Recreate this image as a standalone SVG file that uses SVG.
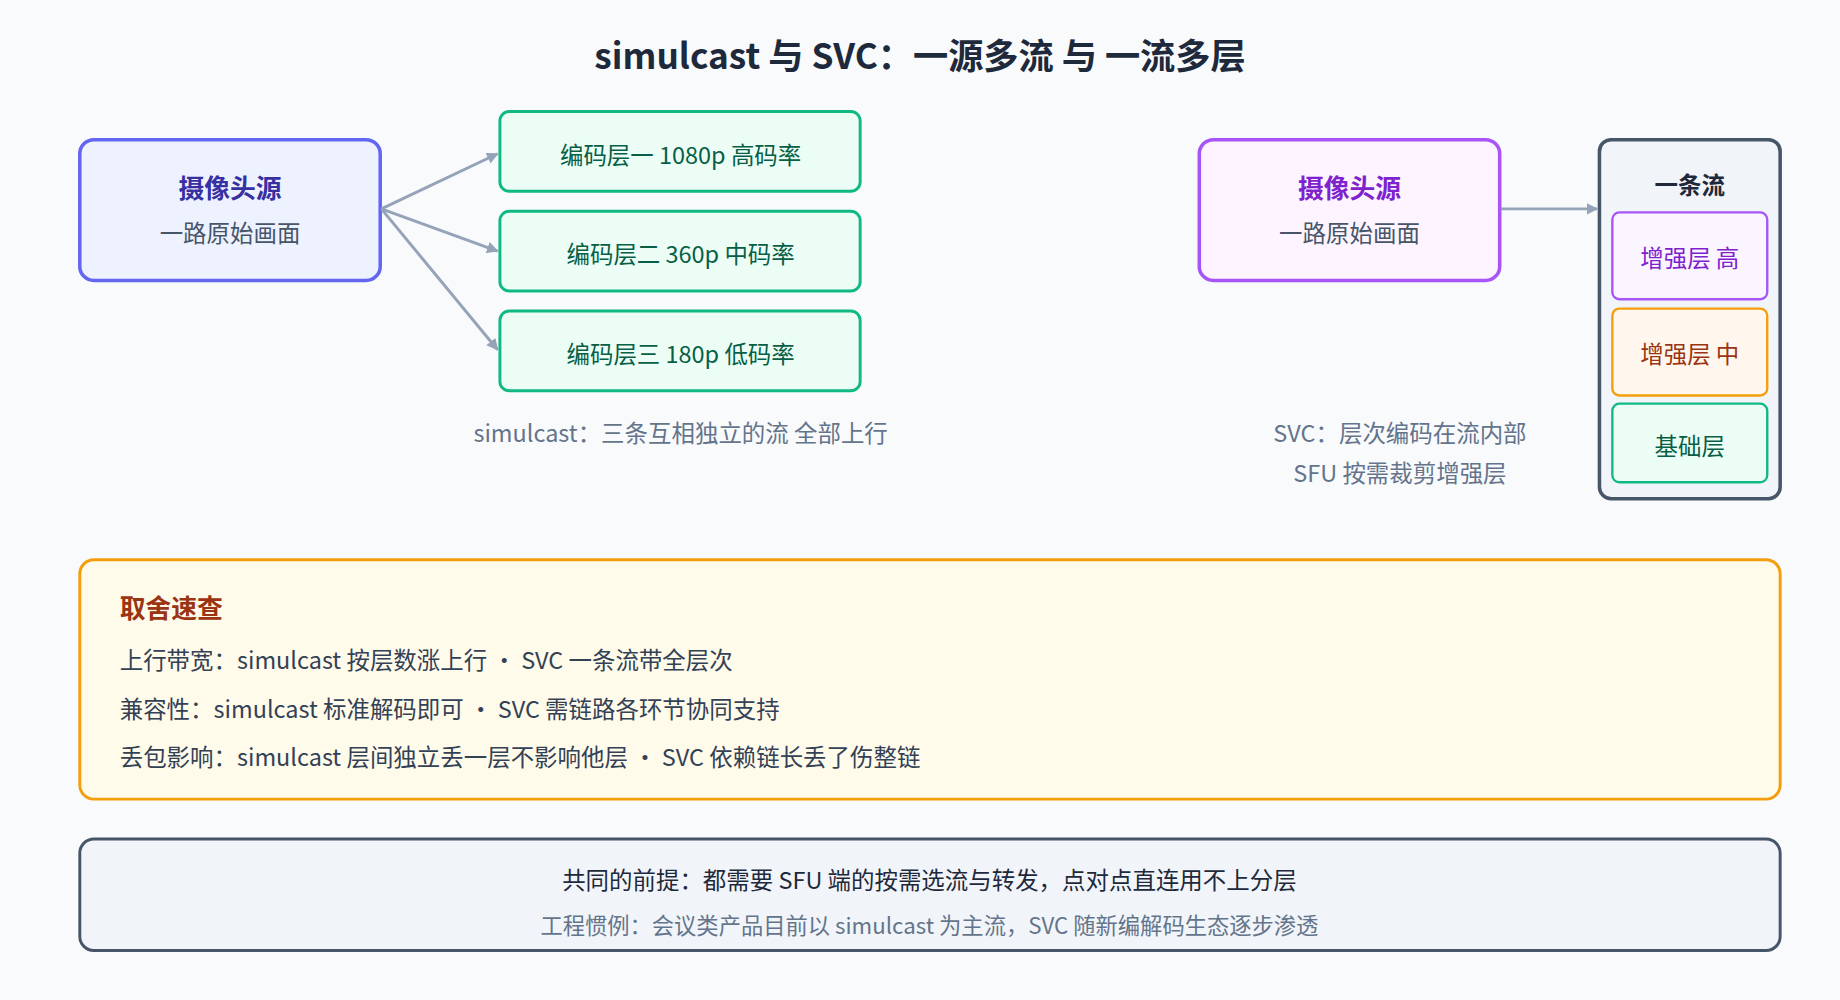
<svg xmlns="http://www.w3.org/2000/svg" width="1840" height="1000" viewBox="0 0 1840 1000">
<defs>
<marker id="ah" markerWidth="10" markerHeight="10" refX="9" refY="5" orient="auto" markerUnits="userSpaceOnUse"><path d="M0,0 L10,5 L0,10 z" fill="#94a3b8"/></marker>
<style>
text{font-family:"Noto Sans CJK SC","Noto Sans",sans-serif;text-anchor:middle;dominant-baseline:central}
.t{font-size:20px}
.b{font-weight:bold}
.g rect{fill:#ecfdf5;stroke:#10b981;stroke-width:2.5}
.g text{fill:#065f46;font-size:20px}
.cap{fill:#64748b;font-size:20px}
.l{text-anchor:start;fill:#334155;font-size:20px}
.c line{stroke:#94a3b8;stroke-width:2.5;marker-end:url(#ah)}
</style>
</defs>
<rect width="1840" height="1000" fill="#f8fafc"/>
<g transform="scale(1.17347)">
<text x="784" y="46" class="b" style="font-size:30px" fill="#1e293b">simulcast 与 SVC：一源多流 与 一流多层</text>
<g id="src1"><rect x="68" y="119" width="256" height="120" rx="12" fill="#eef2ff" stroke="#6366f1" stroke-width="3"/>
<text x="196" y="159" class="t b" fill="#3730a3" style="font-size:22px">摄像头源</text><text x="196" y="198" class="t" fill="#475569">一路原始画面</text></g>
<g id="l1" class="g"><rect x="426" y="95" width="307" height="68" rx="8"/><text x="580" y="131">编码层一 1080p 高码率</text></g>
<g id="l2" class="g"><rect x="426" y="180" width="307" height="68" rx="8"/><text x="580" y="216">编码层二 360p 中码率</text></g>
<g id="l3" class="g"><rect x="426" y="265" width="307" height="68" rx="8"/><text x="580" y="301">编码层三 180p 低码率</text></g>
<text x="580" y="368" class="cap">simulcast：三条互相独立的流 全部上行</text>
<g id="src2"><rect x="1022" y="119" width="256" height="120" rx="12" fill="#fdf4ff" stroke="#a855f7" stroke-width="3"/>
<text x="1150" y="159" class="t b" fill="#7e22ce" style="font-size:22px">摄像头源</text><text x="1150" y="198" class="t" fill="#475569">一路原始画面</text></g>
<g id="stream"><rect x="1363" y="119" width="154" height="306" rx="10" fill="#f1f5f9" stroke="#475569" stroke-width="3"/>
<text x="1440" y="157" class="t b" fill="#1e293b">一条流</text></g>
<g id="eh"><rect x="1374" y="181" width="132" height="74" rx="6" fill="#faf5ff" stroke="#a855f7" stroke-width="2"/><text x="1440" y="219" class="t" fill="#7e22ce">增强层 高</text></g>
<g id="em"><rect x="1374" y="263" width="132" height="74" rx="6" fill="#fff7ed" stroke="#f59e0b" stroke-width="2"/><text x="1440" y="301" class="t" fill="#9a3412">增强层 中</text></g>
<g id="base"><rect x="1374" y="344" width="132" height="67" rx="6" fill="#ecfdf5" stroke="#10b981" stroke-width="2"/><text x="1440" y="379" class="t" fill="#065f46">基础层</text></g>
<text x="1193" y="368" class="cap">SVC：层次编码在流内部</text>
<text x="1193" y="402" class="cap">SFU 按需裁剪增强层</text>
<g id="connectors" class="c">
<line x1="325" y1="178" x2="424" y2="131"/>
<line x1="325" y1="178" x2="424" y2="214"/>
<line x1="325" y1="178" x2="424" y2="298"/>
<line x1="1279" y1="178" x2="1361" y2="178"/>
</g>
<g id="tradeoff"><rect x="68" y="477" width="1449" height="204" rx="12" fill="#fffbeb" stroke="#f59e0b" stroke-width="2.5"/>
<text x="102" y="517" class="l b" fill="#9a3412" style="fill:#9a3412;font-size:22px">取舍速查</text>
<text x="102" y="562" class="l">上行带宽：simulcast 按层数涨上行 · SVC 一条流带全层次</text>
<text x="102" y="603" class="l">兼容性：simulcast 标准解码即可 · SVC 需链路各环节协同支持</text>
<text x="102" y="644" class="l">丢包影响：simulcast 层间独立丢一层不影响他层 · SVC 依赖链长丢了伤整链</text></g>
<g id="note"><rect x="68" y="715" width="1449" height="95" rx="12" fill="#f1f5f9" stroke="#475569" stroke-width="2.5"/>
<text x="792" y="749" class="t" fill="#1e293b">共同的前提：都需要 SFU 端的按需选流与转发，点对点直连用不上分层</text>
<text x="792" y="787" class="cap" style="font-size:19px">工程惯例：会议类产品目前以 simulcast 为主流，SVC 随新编解码生态逐步渗透</text></g>
</g>
</svg>
